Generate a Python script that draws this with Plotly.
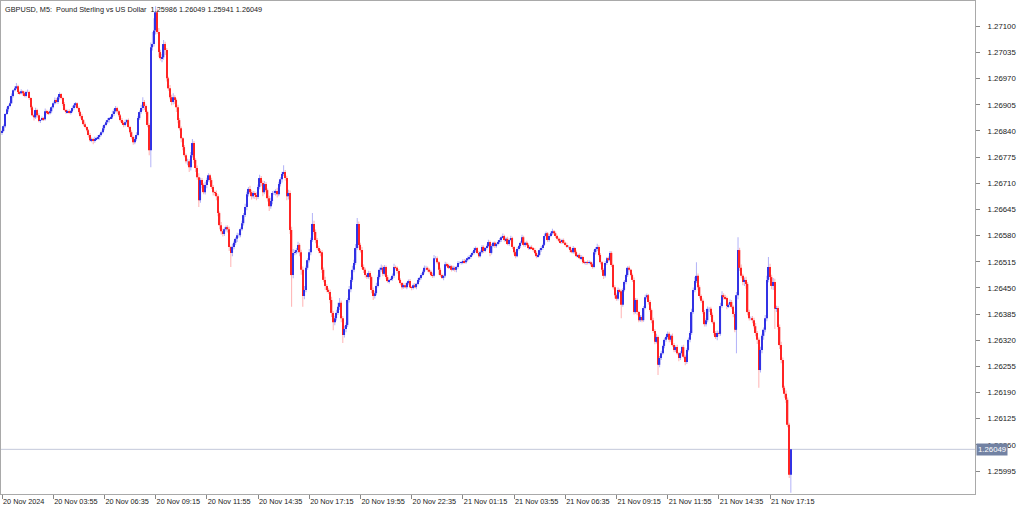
import plotly.graph_objects as go

# ---------------- data (prices in points of 0.00001 relative to 1.26000) ----------------
BASE_PRICE = 1.26
POINT = 0.00001
FIRST_OPEN = 835

CLOSES = [
    840, 852, 882, 894, 902, 909, 927, 941, 946, 951, 937, 934, 939, 934, 927, 937, 937, 922, 899, 879,
    874, 892, 879, 865, 867, 872, 869, 889, 887, 884, 889, 899, 909, 917, 912, 924, 932, 922, 907, 892,
    887, 889, 887, 889, 897, 904, 909, 897, 887, 877, 867, 857, 850, 842, 830, 817, 820, 815, 820, 822,
    825, 830, 837, 847, 855, 862, 867, 872, 874, 882, 889, 897, 889, 879, 867, 860, 855, 862, 867, 850,
    837, 825, 812, 820, 830, 872, 887, 897, 912, 902, 887, 855, 792, 1048, 1056, 1090, 1135, 1086, 1036, 1021,
    1023, 1056, 1041, 971, 946, 924, 912, 924, 917, 899, 867, 847, 822, 800, 780, 765, 765, 750, 780, 810,
    768, 748, 725, 668, 718, 706, 688, 706, 718, 730, 718, 701, 688, 686, 678, 636, 606, 591, 584, 596,
    601, 596, 552, 537, 552, 562, 572, 581, 581, 596, 611, 631, 651, 683, 696, 688, 678, 686, 681, 676,
    701, 723, 711, 688, 708, 693, 673, 653, 666, 686, 686, 691, 683, 708, 720, 733, 738, 723, 678, 686,
    594, 482, 537, 539, 544, 557, 539, 495, 430, 445, 500, 519, 539, 569, 609, 589, 569, 549, 542, 539,
    495, 470, 455, 445, 440, 420, 388, 365, 375, 388, 403, 413, 375, 333, 348, 358, 420, 447, 470, 495,
    512, 549, 609, 557, 544, 502, 495, 482, 477, 487, 477, 445, 430, 437, 455, 477, 495, 500, 485, 502,
    477, 467, 470, 472, 480, 502, 500, 492, 470, 462, 452, 457, 452, 462, 467, 452, 450, 457, 452, 460,
    470, 475, 482, 490, 500, 500, 495, 490, 482, 480, 524, 524, 514, 495, 482, 475, 480, 509, 507, 500,
    504, 495, 500, 495, 502, 512, 512, 514, 517, 514, 519, 524, 527, 532, 537, 544, 549, 537, 529, 539,
    552, 542, 549, 554, 564, 537, 554, 562, 554, 559, 564, 569, 576, 579, 569, 572, 559, 569, 574, 552,
    539, 529, 547, 554, 562, 576, 557, 562, 557, 549, 552, 549, 544, 537, 529, 532, 544, 549, 557, 579,
    586, 569, 579, 586, 591, 586, 579, 572, 567, 564, 569, 562, 557, 552, 552, 544, 539, 549, 539, 529,
    532, 524, 527, 514, 512, 514, 512, 514, 509, 502, 539, 547, 552, 532, 514, 495, 480, 512, 524, 519,
    537, 507, 452, 432, 423, 445, 442, 408, 445, 465, 482, 500, 495, 482, 470, 390, 420, 390, 370, 378,
    370, 400, 427, 432, 415, 395, 370, 343, 316, 328, 259, 276, 288, 306, 321, 328, 336, 321, 331, 308,
    296, 303, 288, 276, 288, 303, 279, 266, 296, 321, 338, 390, 445, 467, 480, 452, 430, 418, 390, 360,
    370, 398, 398, 383, 365, 338, 328, 338, 336, 405, 432, 427, 425, 405, 408, 415, 403, 385, 346, 432,
    544, 500, 480, 465, 470, 460, 390, 375, 375, 370, 355, 338, 321, 246, 296, 331, 346, 375, 470, 502,
    477, 455, 465, 398, 400, 353, 308, 271, 202, 187, 172, 110, -14, 49,
]

UPPER_WICK = [
    3, 4, 2, 5, 3, 4, 6, 3, 5, 8, 4, 3, 5, 2, 4, 3, 6, 3, 2, 4,
    4, 6, 3, 5, 2, 4, 3, 7, 4, 3, 5, 3, 4, 6, 5, 3, 4, 2, 3, 5,
    3, 4, 5, 3, 6, 4, 3, 2, 4, 3, 5, 3, 4, 2, 3, 5, 4, 3, 6, 4,
    5, 3, 4, 6, 3, 4, 5, 3, 4, 8, 6, 5, 3, 4, 3, 5, 4, 6, 3, 4,
    3, 5, 4, 6, 7, 5, 4, 8, 12, 5, 4, 3, 4, 12, 30, 30, 15, 8, 10, 6,
    8, 10, 6, 5, 4, 8, 6, 10, 5, 4, 6, 5, 4, 3, 5, 4, 6, 5, 8, 10,
    5, 4, 6, 10, 6, 5, 4, 8, 6, 5, 4, 6, 5, 4, 6, 5, 4, 8, 6, 5,
    4, 5, 6, 3, 8, 5, 4, 6, 5, 4, 6, 5, 8, 6, 5, 8, 6, 5, 4, 6,
    6, 8, 5, 6, 8, 5, 4, 6, 8, 5, 6, 4, 8, 6, 5, 6, 17, 5, 6, 8,
    6, 8, 10, 6, 5, 8, 4, 6, 8, 10, 6, 5, 8, 6, 27, 8, 6, 5, 6, 5,
    5, 6, 8, 5, 4, 6, 8, 5, 6, 8, 10, 12, 6, 5, 8, 6, 5, 8, 6, 10,
    8, 10, 15, 6, 5, 8, 6, 5, 4, 6, 5, 4, 6, 5, 8, 6, 5, 8, 6, 5,
    4, 5, 3, 4, 6, 8, 4, 3, 5, 4, 3, 4, 5, 3, 4, 5, 3, 4, 5, 3,
    4, 3, 5, 4, 6, 5, 3, 4, 5, 6, 8, 5, 4, 3, 5, 4, 3, 6, 4, 3,
    4, 3, 5, 4, 3, 5, 4, 3, 4, 5, 3, 4, 5, 3, 4, 6, 4, 3, 5, 4,
    5, 4, 3, 4, 6, 4, 5, 3, 4, 3, 4, 5, 4, 6, 3, 4, 5, 4, 6, 3,
    3, 4, 5, 3, 4, 6, 4, 3, 5, 4, 3, 4, 3, 5, 4, 3, 4, 5, 3, 6,
    4, 3, 5, 4, 6, 3, 4, 3, 4, 5, 3, 4, 3, 5, 4, 3, 4, 5, 3, 4,
    3, 4, 5, 3, 4, 3, 5, 4, 3, 4, 6, 5, 8, 4, 5, 3, 4, 5, 3, 4,
    5, 4, 3, 5, 4, 6, 3, 5, 4, 5, 3, 4, 5, 3, 4, 6, 5, 4, 3, 5,
    4, 5, 6, 4, 3, 5, 4, 6, 5, 8, 4, 5, 6, 3, 5, 4, 6, 5, 4, 6,
    5, 4, 6, 3, 5, 4, 6, 5, 4, 6, 5, 8, 6, 10, 34, 6, 5, 4, 6, 5,
    5, 6, 4, 5, 6, 4, 5, 6, 4, 8, 10, 5, 6, 4, 5, 6, 5, 4, 6, 8,
    32, 6, 8, 5, 6, 8, 5, 6, 4, 5, 6, 8, 5, 6, 8, 5, 6, 8, 10, 25,
    8, 6, 10, 8, 6, 5, 6, 8, 6, 5, 8, 6, 5, 0,
]

LOWER_WICK = [
    5, 3, 4, 2, 6, 3, 2, 4, 3, 2, 5, 4, 3, 6, 3, 4, 2, 5, 6, 3,
    8, 4, 6, 3, 5, 2, 4, 3, 6, 4, 3, 5, 3, 4, 3, 5, 6, 4, 5, 3,
    5, 3, 4, 6, 3, 4, 5, 3, 4, 6, 3, 5, 4, 3, 6, 4, 5, 8, 4, 3,
    4, 6, 3, 4, 5, 3, 4, 6, 3, 4, 5, 3, 6, 4, 5, 3, 6, 4, 5, 4,
    5, 4, 6, 5, 4, 3, 5, 4, 6, 10, 5, 6, 12, 42, 8, 6, 10, 5, 12, 6,
    10, 6, 12, 8, 6, 5, 8, 6, 10, 12, 8, 6, 10, 8, 5, 6, 10, 12, 8, 6,
    8, 10, 6, 17, 6, 8, 5, 6, 8, 4, 6, 5, 8, 6, 10, 8, 10, 8, 6, 5,
    6, 8, 10, 35, 8, 6, 5, 8, 6, 5, 4, 6, 5, 8, 6, 5, 8, 6, 10, 8,
    5, 6, 8, 10, 5, 6, 8, 12, 6, 8, 5, 6, 8, 5, 6, 8, 5, 6, 10, 8,
    10, 79, 8, 6, 5, 8, 10, 12, 27, 8, 6, 5, 6, 8, 5, 6, 8, 5, 6, 10,
    8, 6, 10, 6, 5, 8, 10, 20, 8, 6, 5, 8, 10, 20, 6, 8, 5, 6, 8, 5,
    6, 5, 4, 8, 6, 5, 8, 6, 5, 4, 6, 8, 10, 6, 5, 4, 6, 5, 6, 4,
    5, 4, 6, 3, 4, 5, 4, 6, 3, 5, 6, 4, 3, 5, 4, 3, 6, 4, 3, 5,
    3, 5, 4, 3, 4, 6, 5, 4, 3, 5, 4, 3, 5, 12, 4, 3, 6, 4, 5, 3,
    3, 4, 3, 5, 6, 4, 3, 4, 5, 3, 4, 3, 4, 5, 3, 4, 5, 3, 4, 3,
    4, 5, 3, 4, 3, 8, 4, 3, 5, 4, 3, 4, 5, 3, 4, 5, 3, 4, 3, 5,
    6, 5, 3, 4, 5, 3, 4, 5, 3, 4, 5, 3, 4, 3, 5, 4, 3, 4, 5, 3,
    3, 5, 4, 3, 4, 3, 5, 4, 3, 4, 5, 3, 4, 3, 4, 5, 3, 4, 5, 3,
    4, 3, 5, 4, 3, 5, 4, 3, 5, 4, 3, 6, 5, 4, 5, 6, 8, 4, 5, 3,
    4, 5, 6, 8, 5, 4, 6, 33, 5, 4, 6, 5, 4, 3, 5, 6, 4, 8, 5, 4,
    5, 4, 3, 5, 6, 4, 8, 5, 6, 4, 25, 6, 5, 4, 6, 5, 4, 6, 5, 4,
    6, 5, 4, 8, 5, 6, 4, 8, 5, 4, 6, 5, 4, 6, 5, 8, 6, 5, 4, 6,
    6, 5, 8, 5, 4, 6, 5, 8, 6, 5, 4, 6, 5, 8, 5, 6, 5, 8, 6, 58,
    10, 8, 6, 8, 10, 12, 8, 6, 5, 8, 6, 8, 10, 44, 6, 8, 10, 6, 8, 6,
    6, 8, 10, 50, 8, 6, 10, 8, 6, 10, 8, 6, 8, 45,
]

X_TICK_LABELS = [
    "20 Nov 2024", "20 Nov 03:55", "20 Nov 06:35", "20 Nov 09:15", "20 Nov 11:55",
    "20 Nov 14:35", "20 Nov 17:15", "20 Nov 19:55", "20 Nov 22:35", "21 Nov 01:15",
    "21 Nov 03:55", "21 Nov 06:35", "21 Nov 09:15", "21 Nov 11:55", "21 Nov 14:35",
    "21 Nov 17:15",
]
BARS_PER_LABEL = 32

Y_TICKS = [1.25995, 1.26060, 1.26125, 1.26190, 1.26255, 1.26320, 1.26385, 1.26450, 1.26515,
           1.26580, 1.26645, 1.26710, 1.26775, 1.26840, 1.26905, 1.26970, 1.27035, 1.27100]

LAST_PRICE = 1.26049
HEADER = ("GBPUSD, M5:\u00a0 Pound Sterling vs US Dollar\u00a0 "
          "1.25986 1.26049 1.25941 1.26049")

# ---------------- build ----------------
n = len(CLOSES)
assert len(UPPER_WICK) == n and len(LOWER_WICK) == n

opens_pts = [FIRST_OPEN] + CLOSES[:-1]
o = [round(BASE_PRICE + v * POINT, 5) for v in opens_pts]
c = [round(BASE_PRICE + v * POINT, 5) for v in CLOSES]
hi = [round(max(a, b) + w * POINT, 5) for a, b, w in zip(o, c, UPPER_WICK)]
lo = [round(min(a, b) - w * POINT, 5) for a, b, w in zip(o, c, LOWER_WICK)]
x = list(range(n))
bull = [cc >= oo for oo, cc in zip(o, c)]

BODY_UP, BODY_DN = "#3232e4", "#ff2424"
WICK_UP, WICK_DN = "rgba(70,70,235,0.42)", "rgba(255,70,70,0.42)"

fig = go.Figure()
fig.add_trace(go.Bar(
    x=x, y=[h - l for h, l in zip(hi, lo)], base=lo, width=0.62,
    marker=dict(color=[WICK_UP if b else WICK_DN for b in bull], line=dict(width=0)),
    hoverinfo="skip", showlegend=False))
fig.add_trace(go.Bar(
    x=x, y=[abs(cc - oo) for oo, cc in zip(o, c)], base=[min(oo, cc) for oo, cc in zip(o, c)],
    width=0.8,
    marker=dict(color=[BODY_UP if b else BODY_DN for b in bull], line=dict(width=0)),
    hoverinfo="skip", showlegend=False))

FONT = "Tahoma, 'Liberation Sans', Arial, sans-serif"
AX_COL = "#a9a9a9"

fig.update_layout(
    width=1024, height=509,
    margin=dict(l=1, r=49, t=1, b=15, autoexpand=False),
    paper_bgcolor="white", plot_bgcolor="white",
    barmode="overlay", hovermode=False, showlegend=False,
    font=dict(family=FONT, size=8, color="#1a1a1a"),
    xaxis=dict(
        range=[-0.625, 608.1], showgrid=False, zeroline=False,
        showline=True, linecolor=AX_COL, linewidth=1, mirror=True,
        tickmode="array",
        tickvals=[k * BARS_PER_LABEL for k in range(len(X_TICK_LABELS))],
        ticktext=X_TICK_LABELS,
        ticks="outside", ticklen=4, tickcolor="#888888",
        ticklabelposition="outside right", tickangle=0, automargin=False,
        tickfont=dict(size=7.3, color="#1a1a1a"),
    ),
    yaxis=dict(
        range=[1.25938, 1.27163], side="right", showgrid=False, zeroline=False,
        showline=True, linecolor=AX_COL, linewidth=1, mirror=True,
        tickmode="array", tickvals=Y_TICKS, tickformat=".5f",
        ticks="outside", ticklen=4, tickcolor="#888888",
        ticklabelstandoff=6, automargin=False,
        tickfont=dict(size=7.8, color="#1a1a1a"),
    ),
    shapes=[dict(type="line", xref="paper", x0=0, x1=1, yref="y",
                 y0=LAST_PRICE, y1=LAST_PRICE, line=dict(color="#c3c8da", width=1),
                 layer="below")],
    annotations=[
        dict(xref="paper", yref="paper", x=0, y=1, xanchor="left", yanchor="top",
             xshift=2, yshift=-2, text=HEADER, showarrow=False,
             font=dict(family=FONT, size=7.3, color="#1a1a1a")),
        dict(xref="paper", yref="y", x=1, y=LAST_PRICE, xanchor="left", yanchor="middle",
             xshift=1, text=f"{LAST_PRICE:.5f}", showarrow=False, bgcolor="#7282a3",
             borderpad=1, font=dict(family=FONT, size=7.8, color="white")),
    ],
)

fig.write_html("out.html", config={"displayModeBar": False},
               post_script="document.body.style.margin='0';")
